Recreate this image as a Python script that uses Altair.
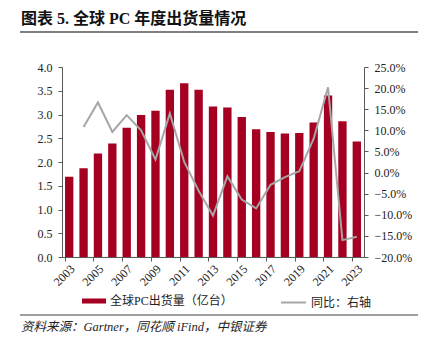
import altair as alt
import pandas as pd

# ---- data ----
years = ["2003", "2004", "2005", "2006", "2007", "2008", "2009", "2010", "2011", "2012",
         "2013", "2014", "2015", "2016", "2017", "2018", "2019", "2020", "2021", "2022", "2023"]
shipments = [1.69, 1.87, 2.18, 2.39, 2.72, 2.99, 3.08, 3.52, 3.66, 3.52,
             3.17, 3.15, 2.95, 2.69, 2.63, 2.60, 2.61, 2.83, 3.40, 2.86, 2.43]
yoy_years = ["2004", "2005", "2006", "2007", "2008", "2009", "2010", "2011", "2012", "2013",
             "2014", "2015", "2016", "2017", "2018", "2019", "2020", "2021", "2022", "2023"]
yoy = [0.108, 0.166, 0.096, 0.136, 0.100, 0.031, 0.140, 0.025, -0.043, -0.102,
       -0.009, -0.064, -0.085, -0.029, -0.011, 0.003, 0.080, 0.202, -0.160, -0.152]
x_label_years = ["2003", "2005", "2007", "2009", "2011", "2013", "2015", "2017", "2019", "2021", "2023"]
left_ticks = [0.0, 0.5, 1.0, 1.5, 2.0, 2.5, 3.0, 3.5, 4.0]
right_ticks = [-0.2, -0.15, -0.1, -0.05, 0.0, 0.05, 0.1, 0.15, 0.2, 0.25]

bar_name = "全球PC出货量（亿台）"
line_name = "同比：右轴"
title_text = "图表 5.  全球 PC 年度出货量情况"
source_text = "资料来源：Gartner，同花顺 iFind，中银证券"

RED = "#A50021"
GRAY = "#A6A6A6"
AXIS = "#595959"
SERIF = "Liberation Serif"
MIX = "Liberation Serif, Noto Sans CJK SC"

bars_df = pd.DataFrame({"year": years, "value": shipments, "series": [bar_name] * len(years)})
line_df = pd.DataFrame({"year": yoy_years, "yoy": yoy, "s": [line_name] * len(yoy_years)})

x_enc = alt.X(
    "year:O",
    sort=years,
    scale=alt.Scale(domain=years, paddingInner=0.42, paddingOuter=0.21),
    axis=alt.Axis(
        title=None, values=x_label_years, labelAngle=-45, bandPosition=0,
        tickSize=4, tickColor=AXIS, domainColor=AXIS, labelFont=SERIF,
        labelFontSize=12, labelColor="#222222", labelPadding=2, grid=False,
    ),
)

bars = alt.Chart(bars_df).mark_bar(color=RED).encode(
    x=x_enc,
    y=alt.Y(
        "value:Q",
        scale=alt.Scale(domain=[0, 4], nice=False),
        axis=alt.Axis(
            title=None, values=left_ticks, format=".1f", orient="left", grid=False,
            tickSize=4, tickColor=AXIS, domainColor=AXIS, labelFont=SERIF,
            labelFontSize=12, labelColor="#222222", labelPadding=6,
        ),
    ),
    color=alt.Color(
        "series:N",
        scale=alt.Scale(domain=[bar_name], range=[RED]),
        legend=alt.Legend(
            title=None, orient="none", legendX=20, legendY=222, padding=0,
            symbolType="M-1,-0.21H1V0.21H-1Z", symbolSize=576, symbolStrokeWidth=0,
            labelFont=MIX, labelFontSize=12, labelColor="#222222", labelOffset=4,
        ),
    ),
)

line = alt.Chart(line_df).mark_line(strokeWidth=2).encode(
    x=x_enc,
    y=alt.Y(
        "yoy:Q",
        scale=alt.Scale(domain=[-0.2, 0.25], nice=False),
        axis=alt.Axis(
            title=None, values=right_ticks, format=".1%", orient="right", grid=False,
            tickSize=4, tickColor=AXIS, domainColor=AXIS, labelFont=SERIF,
            labelFontSize=12, labelColor="#222222", labelPadding=6,
        ),
    ),
    stroke=alt.Stroke(
        "s:N",
        scale=alt.Scale(domain=[line_name], range=[GRAY]),
        legend=alt.Legend(
            title=None, orient="none", legendX=218, legendY=222, padding=0,
            symbolType="stroke", symbolSize=625, symbolStrokeWidth=2,
            labelFont=MIX, labelFontSize=12, labelColor="#222222", labelOffset=4,
        ),
    ),
)

# ---- page decorations: title, rules, source note ----
title = alt.Chart(pd.DataFrame({"t": [title_text]})).mark_text(
    align="left", baseline="middle", font=MIX, fontSize=16, fontWeight="bold", color="#111111"
).encode(text="t:N", x=alt.value(-41), y=alt.value(-48))

title_rule = alt.Chart(pd.DataFrame({"a": [0]})).mark_rule(color="#808080", strokeWidth=2).encode(
    x=alt.value(-42), x2=alt.value(356), y=alt.value(-35)
)

bottom_rule = alt.Chart(pd.DataFrame({"a": [0]})).mark_rule(color="#404040", strokeWidth=1.2).encode(
    x=alt.value(-42), x2=alt.value(356), y=alt.value(248)
)

source = alt.Chart(pd.DataFrame({"t": [source_text]})).mark_text(
    align="left", baseline="middle", font=MIX, fontSize=12.5, fontStyle="italic", color="#222222"
).encode(text="t:N", x=alt.value(-41), y=alt.value(260))

chart = (
    alt.layer(bars, line, title, title_rule, bottom_rule, source)
    .resolve_scale(y="independent", color="independent", stroke="independent")
    .properties(
        width=302, height=190,
        autosize=alt.AutoSizeParams(type="none"),
        padding={"left": 62, "top": 67, "right": 66, "bottom": 87},
    )
    .configure_view(stroke=None)
)

chart.save("out.html", embed_options={"renderer": "svg", "actions": False})
